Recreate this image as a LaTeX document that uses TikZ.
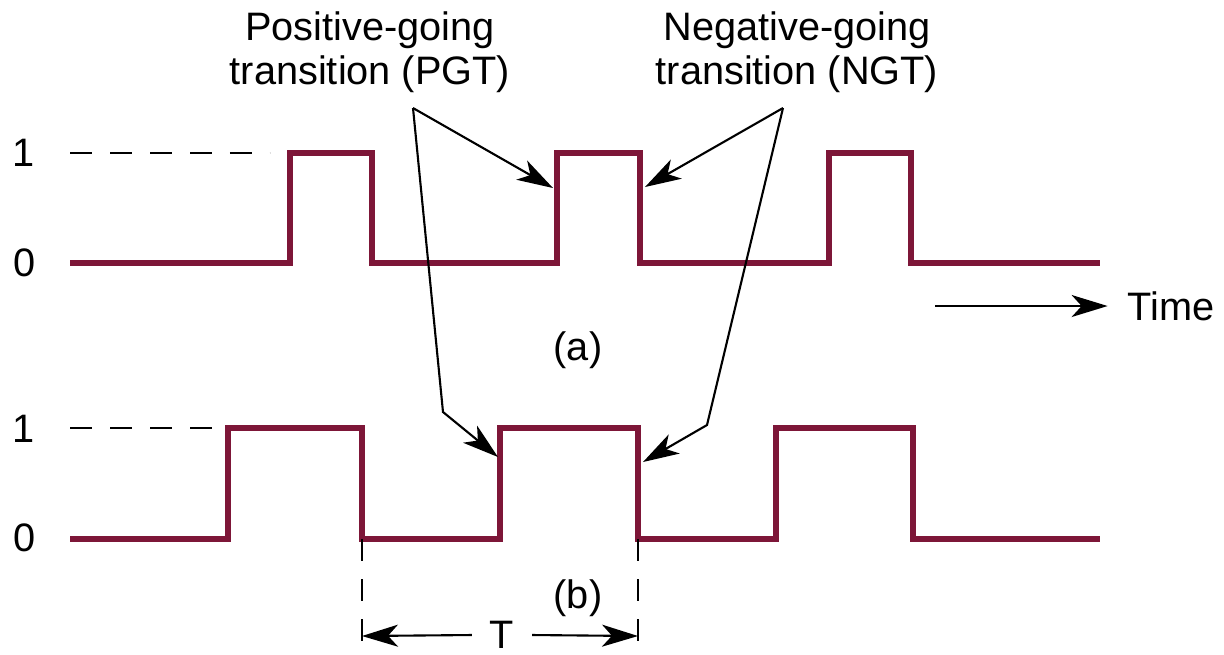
\documentclass[tikz,border=0pt]{standalone}
\usepackage{fontspec}
\setmainfont{Liberation Sans}
\usepackage{xcolor}
\usepackage{tikz}
\usetikzlibrary{arrows.meta, positioning}

\definecolor{wavered}{RGB}{125,22,56}

\begin{document}
\begin{tikzpicture}[
  font=\fontsize{11.3}{12.5}\selectfont,
  wave/.style={
    draw=wavered,
    line width=1.5pt,
    line join=miter
  },
  pointer/.style={
    draw=black,
    line width=0.6pt,
    -{Stealth[length=3.6mm, width=2.2mm, inset=1.0mm]}
  },
  guide/.style={
    draw=black,
    line width=0.6pt,
    dash pattern=on 0.22cm off 0.18cm
  },
  level/.style={
    inner sep=1pt
  }
]

\useasboundingbox (0,0) rectangle (12.24,-6.54);

% Title labels
\node[align=center] (pgt) at (3.70,-0.52)
{Positive-going\\transition (PGT)};
\node[align=center] (ngt) at (7.97,-0.52)
{Negative-going\\transition (NGT)};

\coordinate (pgtTip) at (4.13,-1.08);
\coordinate (ngtTip) at (7.83,-1.08);

% -------------------------------------------------------------------
% Waveform (a)
% -------------------------------------------------------------------
\node[level] (a1) at (0.24,-1.53) {1};
\node[level] (a0) at (0.25,-2.63) {0};

\draw[guide] (0.70,-1.53) -- (2.70,-1.53);

\draw[wave] (0.70,-2.63) -| (2.90,-1.53) -| (3.72,-2.63)
  -| (5.57,-1.53) -| (6.40,-2.63)
  -| (8.29,-1.53) -| (9.11,-2.63) -- (11.00,-2.63);

\coordinate (aRise) at (5.53,-1.88);
\coordinate (aFall) at (6.45,-1.87);

\node (alab) at (5.78,-3.50) {(a)};

% Time axis
\node[inner sep=0pt, outer sep=0.2cm] (time) at (11.71,-3.06) {Time};
\coordinate (timeStart) at (9.35,-3.06);
\draw[pointer] (timeStart) -- (time.west);

% -------------------------------------------------------------------
% Waveform (b)
% -------------------------------------------------------------------
\node[level] (b1) at (0.24,-4.29) {1};
\node[level] (b0) at (0.25,-5.38) {0};

\draw[guide] (0.70,-4.28) -- (2.15,-4.28);

\draw[wave] (0.70,-5.39) -| (2.28,-4.28) -| (3.62,-5.39)
  -| (5.00,-4.28) -| (6.38,-5.39)
  -| (7.76,-4.28) -| (9.13,-5.39) -- (11.00,-5.39);

\coordinate (bRise) at (4.98,-4.57);
\coordinate (bFall) at (6.43,-4.62);
\coordinate (bRiseBend) at (4.43,-4.12);
\coordinate (bFallBend) at (7.07,-4.25);

\node (blab) at (5.78,-5.98) {(b)};

% Period T
\coordinate (tLeftTop) at (3.62,-5.39);
\coordinate (tLeftBot) at (3.62,-6.43);
\coordinate (tRightTop) at (6.38,-5.39);
\coordinate (tRightBot) at (6.38,-6.43);
\draw[guide] (tLeftTop) -- (tLeftBot);
\draw[guide] (tRightTop) -- (tRightBot);

\node[inner sep=0pt, outer sep=0.18cm] (tlab) at (5.02,-6.35) {T};
\coordinate (tLeft) at (3.62,-6.36);
\coordinate (tRight) at (6.38,-6.36);
\draw[pointer] (tlab.west) -- (tLeft);
\draw[pointer] (tlab.east) -- (tRight);

% Pointers to transitions
\draw[pointer] (pgtTip) -- (aRise);
\draw[pointer] (pgtTip) -- (bRiseBend) -- (bRise);
\draw[pointer] (ngtTip) -- (aFall);
\draw[pointer] (ngtTip) -- (bFallBend) -- (bFall);

\end{tikzpicture}
\end{document}
